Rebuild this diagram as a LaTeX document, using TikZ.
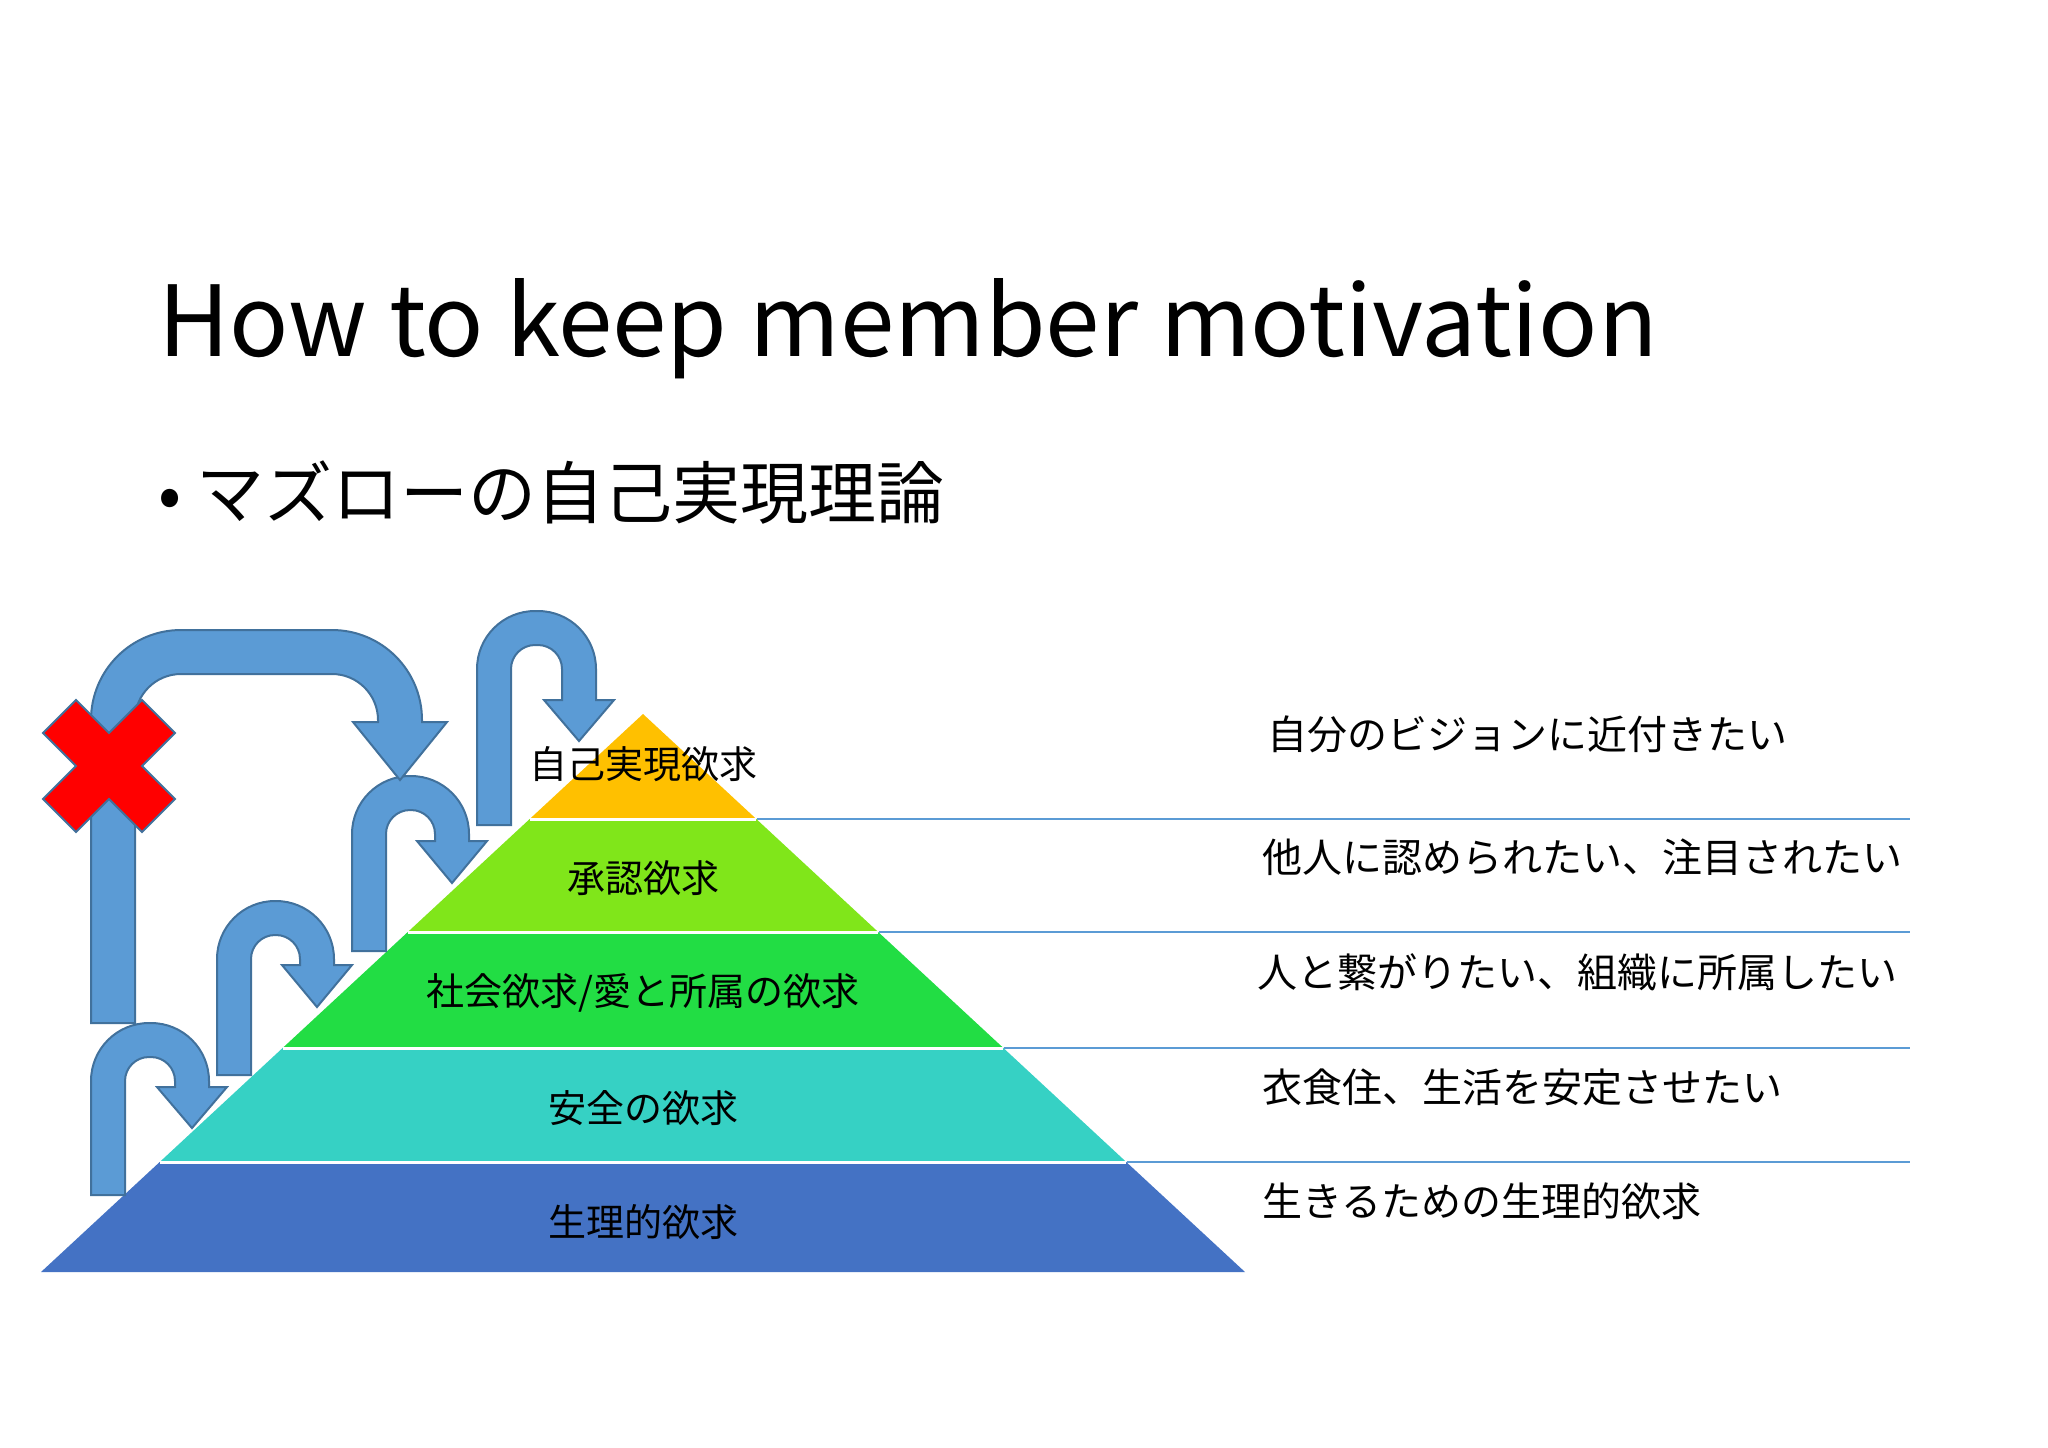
\documentclass[tikz,border=0pt]{standalone}
\usepackage{fontspec}
\setmainfont{Noto Sans CJK JP}
\definecolor{arrfill}{HTML}{5B9BD5}
\definecolor{arrline}{HTML}{41719C}
\definecolor{lvA}{HTML}{FFC000}
\definecolor{lvB}{HTML}{80E61A}
\definecolor{lvC}{HTML}{22DD44}
\definecolor{lvD}{HTML}{36D1C4}
\definecolor{lvE}{HTML}{4472C4}
\tikzset{
  uarrow/.style={fill=arrfill,draw=arrline,line width=1pt,line join=miter},
  lvl/.style={font=\fontsize{19}{22}\selectfont,inner sep=0pt},
  desc/.style={font=\fontsize{20}{24}\selectfont,inner sep=0pt,anchor=west},
  sep/.style={draw=arrfill,line width=0.8pt}
}
% #1 L, #2 R, #3 T, #4 B, #5 w, #6 r (pt), #7 r inner (pt), #8 head base y, #9 head half width; tip y via \tipy
\newcommand{\myuturn}[9]{%
  \pgfmathsetmacro{\cc}{#2-#5/2}%
  \draw[uarrow] (#1,#4) [rounded corners=#6] -- (#1,#3) -- (#2,#3) [sharp corners]-- (#2,#8)
    -- (\cc+#9,#8) -- (\cc,\tipy) -- (\cc-#9,#8) -- (#2-#5,#8)
    [rounded corners=#7] -- (#2-#5,#3+#5) -- (#1+#5,#3+#5) [sharp corners] -- (#1+#5,#4) -- cycle;}
\begin{document}
\begin{tikzpicture}[x=0.5pt,y=-0.5pt]
\useasboundingbox[fill=white] (0,0) rectangle (2048,1447);
% title
\node[anchor=base west,inner sep=0pt,font=\fontsize{49}{56}\selectfont] (title) at (158,356) {How to keep member motivation};
\node[anchor=base west,inner sep=0pt,font=\fontsize{34}{40}\selectfont] (sub) at (158,518) {• マズローの自己実現理論};
% pyramid
\fill[lvA] (643,714) -- (756.3,819) -- (529.7,819) -- cycle;
\fill[lvB] (529.7,819) -- (756.3,819) -- (878.2,932) -- (407.8,932) -- cycle;
\fill[lvC] (407.8,932) -- (878.2,932) -- (1003.4,1048) -- (282.6,1048) -- cycle;
\fill[lvD] (282.6,1048) -- (1003.4,1048) -- (1126.3,1162) -- (159.7,1162) -- cycle;
\fill[lvE] (159.7,1162) -- (1126.3,1162) -- (1245,1272) -- (41,1272) -- cycle;
\foreach \y/\a/\b in {819/529.7/756.3,932/407.8/878.2,1048/282.6/1003.4,1162/159.7/1126.3}
  \draw[white,line width=1.5pt] (\a,\y) -- (\b,\y);
\coordinate (r1) at (757,819); \coordinate (e1) at (1910,819);
\coordinate (r2) at (879,932); \coordinate (e2) at (1910,932);
\coordinate (r3) at (1004,1048); \coordinate (e3) at (1910,1048);
\coordinate (r4) at (1127,1162); \coordinate (e4) at (1910,1162);
\draw[sep] (r1) -- (e1); \draw[sep] (r2) -- (e2); \draw[sep] (r3) -- (e3); \draw[sep] (r4) -- (e4);
% arrows
\def\tipy{1128}\myuturn{91}{209}{1023}{1195}{34}{29pt}{12pt}{1087}{35}
\def\tipy{1007}\myuturn{217}{334}{901}{1075}{34}{29pt}{12pt}{965}{35}
\def\tipy{883}\myuturn{352}{469}{776}{951}{34}{29pt}{12pt}{841}{35}
\def\tipy{741}\myuturn{477}{596}{611}{825}{34}{29pt}{12pt}{700}{35}
\def\tipy{780}\myuturn{91}{422}{630}{1023}{44}{45pt}{23pt}{722}{47}
% red X
\begin{scope}[shift={(109,766)}]
\draw[fill=red,draw=arrline,line width=1pt] (-66,-33) -- (-33,-66) -- (0,-33) -- (33,-66) -- (66,-33) -- (33,0)
  -- (66,33) -- (33,66) -- (0,33) -- (-33,66) -- (-66,33) -- (-33,0) -- cycle;
\end{scope}
% labels
\node[lvl] (l1) at (643,764) {自己実現欲求};
\node[lvl] (l2) at (643,878) {承認欲求};
\node[lvl] (l3) at (643,993) {社会欲求/愛と所属の欲求};
\node[lvl] (l4) at (643,1108) {安全の欲求};
\node[lvl] (l5) at (643,1222) {生理的欲求};
\node[desc] (d1) at (1267,734) {自分のビジョンに近付きたい};
\node[desc] (d2) at (1262,857) {他人に認められたい、注目されたい};
\node[desc] (d3) at (1257,972) {人と繋がりたい、組織に所属したい};
\node[desc] (d4) at (1262,1087) {衣食住、生活を安定させたい};
\node[desc] (d5) at (1262,1201) {生きるための生理的欲求};
\end{tikzpicture}
\end{document}
